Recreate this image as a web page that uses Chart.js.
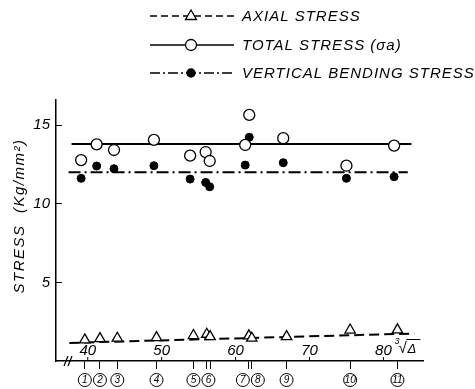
<!DOCTYPE html>
<html>
<head>
<meta charset="utf-8">
<script src="https://cdn.jsdelivr.net/npm/chart.js@4.4.1/dist/chart.umd.min.js"></script>
<style>
  html, body { margin: 0; padding: 0; background: #fff; }
  #wrap { width: 475px; height: 389px; }
</style>
</head>
<body>
<div id="wrap"><canvas id="stressChart"></canvas></div>
<script>
// specimen positions on the cube-root axis and their numbers
const specimenX = [39.6, 41.65, 44.0, 49.3, 54.3, 56.1, 56.55, 61.8, 62.2, 66.9, 75.5, 81.9];
const specimenNo = [1, 2, 3, 4, 5, 6, 6, 7, 8, 9, 10, 11];
// circles sit a little left of the ticks in the original
const circleX = [39.1, 41.2, 43.55, 48.95, 53.85, 55.95, 56.5, 61.3, 61.85, 66.45, 75.0, 81.45];

const axialStress = [1.34, 1.42, 1.45, 1.49, 1.62, 1.70, 1.55, 1.60, 1.45, 1.55, 1.97, 1.98];
const totalStress = [12.78, 13.78, 13.42, 14.06, 13.06, 13.29, 12.72, 13.74, 15.65, 14.17, 12.42, 13.70];
const bendingStress = [11.62, 12.40, 12.23, 12.42, 11.57, 11.36, 11.08, 12.46, 14.23, 12.61, 11.62, 11.72];

// mean lines, read at both ends
const axialLineX = [37.5, 84.2];
const axialLineY = [1.15, 1.75];
const totalLineX = [37.8, 83.8];
const totalLineY = [13.8, 13.8];
const bendingLineX = [37.4, 83.3];
const bendingLineY = [12.0, 12.0];

const xLabels = [40, 50, 60, 70, 80];
const yTicks = [5, 10, 15];

const FONT = "'Liberation Sans', 'DejaVu Sans', sans-serif";
const pts = (xs, ys) => xs.map((x, i) => ({ x: x, y: ys[i] }));

const legendRows = [
  { text: "AXIAL STRESS", dash: [7, 4], style: "triangle", fill: "#fff", y: 16 },
  { text: "TOTAL STRESS (σa)", dash: [], style: "circle", fill: "#fff", y: 45 },
  { text: "VERTICAL BENDING STRESS", dash: [10, 3, 2, 3], style: "circle", fill: "#000", y: 73 },
];

function drawMarker(ctx, style, fill, x, y) {
  ctx.save();
  ctx.setLineDash([]);
  ctx.lineWidth = 1.3;
  ctx.strokeStyle = "#000";
  ctx.fillStyle = fill;
  ctx.beginPath();
  if (style === "triangle") {
    ctx.moveTo(x, y - 6);
    ctx.lineTo(x + 5.5, y + 3.5);
    ctx.lineTo(x - 5.5, y + 3.5);
    ctx.closePath();
  } else {
    ctx.arc(x, y, fill === "#000" ? 4 : 5.5, 0, Math.PI * 2);
  }
  ctx.fill();
  ctx.stroke();
  ctx.restore();
}

const paperAxes = {
  id: "paperAxes",
  afterDraw(chart) {
    const ctx = chart.ctx;
    const xs = chart.scales.x;
    const axisY = chart.chartArea.bottom;
    ctx.save();
    ctx.fillStyle = "#000";
    ctx.strokeStyle = "#000";

    // numeric labels sit above the axis
    ctx.font = "italic 15px " + FONT;
    ctx.textAlign = "center";
    ctx.textBaseline = "alphabetic";
    ctx.lineWidth = 1;
    xLabels.forEach(v => {
      const px = xs.getPixelForValue(v);
      ctx.fillText(String(v), px, axisY - 6);
      ctx.beginPath();
      ctx.moveTo(px, axisY);
      ctx.lineTo(px, axisY - 4);
      ctx.stroke();
    });

    // cube root of displacement
    const rx = xs.getPixelForValue(80) + 11;
    ctx.textAlign = "left";
    ctx.font = "italic 9px " + FONT;
    ctx.fillText("3", rx, axisY - 17);
    ctx.font = "15px " + FONT;
    ctx.fillText("√", rx + 4, axisY - 8);
    ctx.font = "italic 13px " + FONT;
    ctx.fillText("Δ", rx + 13, axisY - 8);
    ctx.beginPath();
    ctx.moveTo(rx + 12, axisY - 21.5);
    ctx.lineTo(rx + 26, axisY - 21.5);
    ctx.stroke();

    // axis break mark
    ctx.lineWidth = 1.2;
    [66, 70].forEach(bx => {
      ctx.beginPath();
      ctx.moveTo(bx - 2, axisY + 5);
      ctx.lineTo(bx + 2, axisY - 5);
      ctx.stroke();
    });

    // circled specimen numbers
    const groups = [];
    specimenNo.forEach((n, i) => {
      const px = xs.getPixelForValue(specimenX[i]);
      const g = groups.find(k => k.n === n);
      if (g) { g.sum += px; g.c++; } else groups.push({ n: n, sum: px, c: 1 });
    });
    groups.forEach(g => { g.px = g.sum / g.c; });
    for (let i = 1; i < groups.length; i++) {
      const gap = groups[i].px - groups[i - 1].px;
      if (gap < 15) {
        const push = (15 - gap) / 2;
        groups[i - 1].px -= push;
        groups[i].px += push;
      }
    }
    ctx.font = "italic 10px " + FONT;
    ctx.textAlign = "center";
    ctx.textBaseline = "middle";
    ctx.lineWidth = 1;
    groups.forEach(g => {
      ctx.beginPath();
      ctx.arc(g.px, axisY + 19, 6.5, 0, Math.PI * 2);
      ctx.stroke();
      ctx.fillText(String(g.n), g.px, axisY + 19.5);
    });

    // y axis title, spaced out like the lettering
    ctx.save();
    ctx.translate(20, 216);
    ctx.rotate(-Math.PI / 2);
    ctx.font = "italic 15px " + FONT;
    ctx.letterSpacing = "1.5px";
    ctx.fillText("STRESS  (Kg/mm²)", 0, 0);
    ctx.restore();

    // legend
    ctx.font = "italic 15px " + FONT;
    ctx.textAlign = "left";
    ctx.textBaseline = "middle";
    ctx.letterSpacing = "1px";
    legendRows.forEach(r => {
      ctx.lineWidth = 1.5;
      ctx.setLineDash(r.dash);
      ctx.beginPath();
      ctx.moveTo(150, r.y);
      ctx.lineTo(234, r.y);
      ctx.stroke();
      drawMarker(ctx, r.style, r.fill, 191, r.y);
      ctx.fillText(r.text, 242, r.y + 1);
    });
    ctx.letterSpacing = "0px";
    ctx.restore();
  }
};

new Chart(document.getElementById("stressChart"), {
  type: "line",
  data: {
    datasets: [
      {
        data: pts(circleX, totalStress),
        showLine: false,
        pointStyle: "circle",
        pointRadius: 5.5,
        pointBackgroundColor: "#fff",
        pointBorderColor: "#000",
        pointBorderWidth: 1.3,
      },
      {
        data: pts(circleX, bendingStress),
        showLine: false,
        pointStyle: "circle",
        pointRadius: 4,
        pointBackgroundColor: "#000",
        pointBorderColor: "#000",
        pointBorderWidth: 1,
      },
      {
        data: pts(specimenX, axialStress),
        showLine: false,
        pointStyle: "triangle",
        pointRadius: 6,
        pointBackgroundColor: "#fff",
        pointBorderColor: "#000",
        pointBorderWidth: 1.3,
      },
      {
        data: pts(totalLineX, totalLineY),
        borderColor: "#000",
        borderWidth: 2,
        pointRadius: 0,
      },
      {
        data: pts(bendingLineX, bendingLineY),
        borderColor: "#000",
        borderWidth: 2,
        borderDash: [12, 4, 2, 4],
        pointRadius: 0,
      },
      {
        data: pts(axialLineX, axialLineY),
        borderColor: "#000",
        borderWidth: 2,
        borderDash: [10, 5],
        pointRadius: 0,
      },
    ],
  },
  options: {
    responsive: true,
    maintainAspectRatio: false,
    animation: false,
    layout: { padding: { top: 100, right: 52, left: 0, bottom: 0 } },
    plugins: { legend: { display: false }, tooltip: { enabled: false } },
    scales: {
      x: {
        type: "linear",
        min: 35.7,
        max: 85.36,
        afterBuildTicks: s => { s.ticks = specimenX.map(v => ({ value: v })); },
        afterFit: s => { s.height = 28; },
        ticks: { display: false },
        grid: { drawOnChartArea: false, tickLength: 8, color: "#000", lineWidth: 1 },
        border: { color: "#000", width: 1.5 },
      },
      y: {
        min: 0,
        max: 16.6,
        afterBuildTicks: s => { s.ticks = yTicks.map(v => ({ value: v })); },
        afterFit: s => { s.width = 56; },
        ticks: { color: "#000", padding: 12, font: { family: FONT, size: 15, style: "italic" } },
        grid: { drawOnChartArea: false, tickLength: -6, color: "#000", lineWidth: 1 },
        border: { color: "#000", width: 1.5 },
      },
    },
  },
  plugins: [paperAxes],
});
</script>
</body>
</html>
